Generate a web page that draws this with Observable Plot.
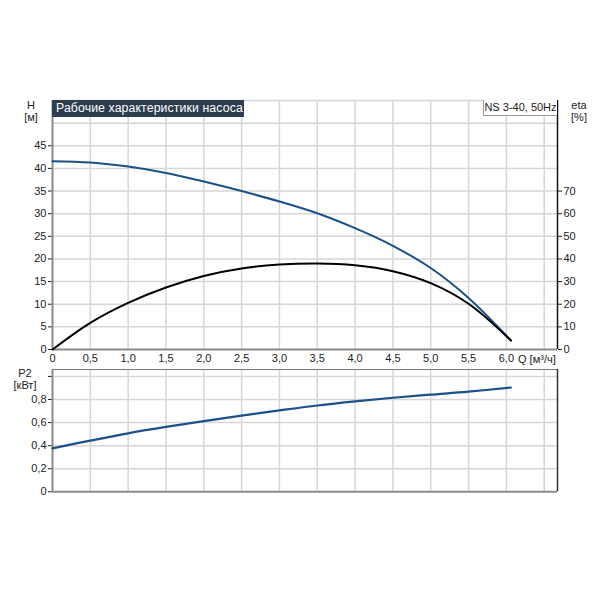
<!DOCTYPE html>
<html>
<head>
<meta charset="utf-8">
<script src="https://cdn.jsdelivr.net/npm/d3@7"></script>
<script src="https://cdn.jsdelivr.net/npm/@observablehq/plot@0.6"></script>
<style>
  body { margin: 0; background: #fff; }
  #c { position: relative; width: 600px; height: 600px; font-family: "Liberation Sans", Arial, sans-serif; color: #222; }
  #c svg { position: absolute; left: 0; }
  .lbl { position: absolute; font-size: 11px; line-height: 12px; text-align: center; width: 40px; color: #222; }
</style>
</head>
<body>
<div id="c"></div>
<script>
// Data
const Q    = [0, 0.5, 1.0, 1.5, 2.0, 2.5, 3.0, 3.5, 4.0, 4.5, 5.0, 5.5, 6.06];
const H    = [41.6, 41.3, 40.4, 39.0, 37.1, 35.0, 32.7, 30.1, 26.8, 22.9, 18.0, 11.4, 2.0];
const eta  = [0, 11.8, 20.6, 27.4, 32.5, 35.8, 37.5, 38.0, 37.2, 34.6, 29.3, 20.2, 4.0];
const P2   = [0.377, 0.444, 0.507, 0.562, 0.613, 0.660, 0.705, 0.748, 0.784, 0.815, 0.842, 0.868, 0.904];

const xTicks   = [0, 0.5, 1.0, 1.5, 2.0, 2.5, 3.0, 3.5, 4.0, 4.5, 5.0, 5.5, 6.0];
const xGrid    = [0.5, 1.0, 1.5, 2.0, 2.5, 3.0, 3.5, 4.0, 4.5, 5.0, 5.5, 6.0, 6.5];
const hTicks   = [0, 5, 10, 15, 20, 25, 30, 35, 40, 45];
const hGrid    = [5, 10, 15, 20, 25, 30, 35, 40, 45, 50, 55];
const etaTicks = [0, 10, 20, 30, 40, 50, 60, 70];
const pTicks   = [0, 0.2, 0.4, 0.6, 0.8, 1.0];
const pGrid    = [0.2, 0.4, 0.6, 0.8, 1.0];

const xMax = 6.676;
const data = Q.map((q, i) => ({Q: q, H: H[i], eta: eta[i], P2: P2[i]}));
const fmt = d => d === 0 ? "0" : d.toFixed(1).replace(".", ",");
const gridStyle = {stroke: "#d6d6d6", strokeOpacity: 1, strokeWidth: 1.5};
const font = {fontFamily: "'Liberation Sans', Arial, sans-serif", fontSize: "11px", color: "#222", background: "transparent", overflow: "visible"};

const topChart = Plot.plot({
  width: 600, height: 370,
  marginLeft: 52, marginRight: 43, marginTop: 100, marginBottom: 21,
  x: {domain: [0, xMax]},
  y: {domain: [0, 55]},
  style: font,
  marks: [
    Plot.gridX(xGrid, gridStyle),
    Plot.gridY(hGrid, gridStyle),
    Plot.axisX(xTicks, {tickSize: 0, tickPadding: 5, tickFormat: fmt, label: null}),
    Plot.axisY(hTicks, {tickSize: 4, tickPadding: 2, label: null}),
    Plot.axisY(etaTicks.map(d => d / 2), {anchor: "right", tickSize: 4, tickPadding: 2, tickFormat: d => String(d * 2), label: null}),
    Plot.ruleX([0], {stroke: "#8a8a8a", strokeWidth: 2}),
    Plot.ruleY([0], {stroke: "#8a8a8a", strokeWidth: 2}),
    Plot.ruleX([xMax], {stroke: "#111", strokeWidth: 1.5}),
    Plot.line(data, {x: "Q", y: "H", stroke: "#1b5089", strokeWidth: 2, curve: "catmull-rom"}),
    Plot.line(data, {x: "Q", y: d => d.eta / 2, stroke: "#000", strokeWidth: 2, curve: "catmull-rom"})
  ]
});
topChart.style.top = "0px";

const bottomChart = Plot.plot({
  width: 600, height: 250,
  marginLeft: 52, marginRight: 43, marginTop: 19, marginBottom: 108.7,
  x: {domain: [0, xMax], axis: null},
  y: {domain: [0, 1.06]},
  style: font,
  marks: [
    Plot.gridX(xGrid, gridStyle),
    Plot.gridY(pGrid, gridStyle),
    Plot.axisY(pTicks, {tickSize: 4, tickPadding: 2, tickFormat: d => d === 1 ? "" : fmt(d), label: null}),
    Plot.ruleY([1.06], {stroke: "#777", strokeWidth: 1}),
    Plot.ruleX([0], {stroke: "#8a8a8a", strokeWidth: 2}),
    Plot.ruleY([0], {stroke: "#8a8a8a", strokeWidth: 2}),
    Plot.ruleX([xMax], {stroke: "#333", strokeWidth: 1.5}),
    Plot.line(data, {x: "Q", y: "P2", stroke: "#1b5089", strokeWidth: 2.2, curve: "catmull-rom"})
  ]
});
bottomChart.style.top = "350px";

const c = document.getElementById("c");
c.appendChild(topChart);
c.appendChild(bottomChart);

function addDiv(html, css, cls) {
  const d = document.createElement("div");
  if (cls) d.className = cls;
  d.innerHTML = html;
  Object.assign(d.style, css);
  c.appendChild(d);
  return d;
}
addDiv("H<br>[м]", {left: "11px", top: "99px"}, "lbl");
addDiv("eta<br>[%]", {left: "559px", top: "99px"}, "lbl");
addDiv("P2<br>[кВт]", {left: "5px", top: "367px"}, "lbl");
addDiv("Q [м³/ч]", {position: "absolute", left: "518px", top: "353px", fontSize: "11px", lineHeight: "13px", color: "#222"});
addDiv("Рабочие характеристики насоса", {
  position: "absolute", left: "52px", top: "100px", width: "192px", height: "17px",
  background: "#2c3d4f", color: "#fff", fontSize: "12.3px", lineHeight: "17px",
  paddingLeft: "4px", boxSizing: "border-box", whiteSpace: "nowrap", overflow: "hidden", letterSpacing: "0.1px"
});
addDiv("NS 3-40, 50Hz", {
  position: "absolute", left: "483px", top: "100px", width: "74px", height: "16px",
  background: "#fff", color: "#222", fontSize: "11px", lineHeight: "15px",
  border: "1px solid #999", borderTop: "none", borderRight: "none", boxSizing: "border-box", textAlign: "center", whiteSpace: "nowrap"
});
</script>
</body>
</html>
